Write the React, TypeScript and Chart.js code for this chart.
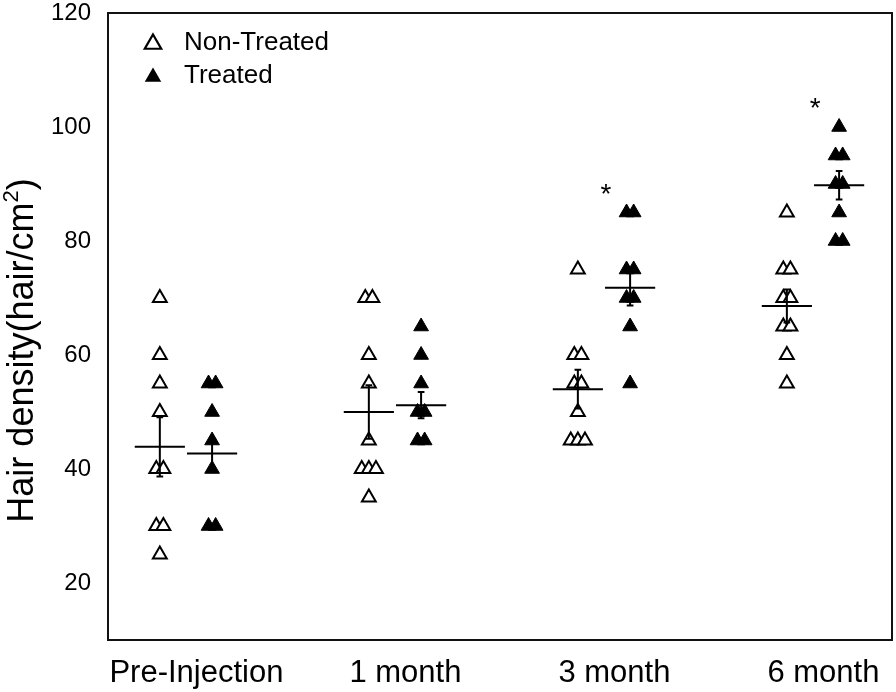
import React, { useEffect, useRef } from "react";
import { Chart, registerables } from "chart.js";

Chart.register(...registerables);

// ---- Data ----
const CATEGORIES = ["Pre-Injection", "1 month", "3 month", "6 month"];

const NON_TREATED: number[][] = [
  [70, 60, 55, 50, 40, 40, 30, 30, 25],
  [70, 70, 60, 55, 45, 40, 40, 40, 35],
  [75, 60, 60, 55, 55, 50, 45, 45, 45],
  [85, 75, 75, 70, 70, 65, 65, 60, 55],
];

const TREATED: number[][] = [
  [55, 55, 50, 45, 40, 30, 30],
  [65, 60, 55, 50, 50, 45, 45],
  [85, 85, 75, 75, 70, 70, 65, 55],
  [100, 95, 95, 90, 90, 85, 80, 80],
];

const NON_TREATED_MEAN = [43.9, 50.0, 54.0, 68.6];
const NON_TREATED_SEM = [5.2, 4.7, 3.4, 2.9];
const TREATED_MEAN = [42.7, 51.2, 71.8, 89.8];
const TREATED_SEM = [2.6, 2.3, 3.1, 2.5];

const SIGNIFICANT = [false, false, true, true];

const Y_TICKS = [20, 40, 60, 80, 100, 120];
const Y_MIN = 10;
const Y_MAX = 120;

const LEGEND_LABELS = ["Non-Treated", "Treated"];
const Y_TITLE_MAIN = "Hair density(hair/cm";
const Y_TITLE_SUP = "2";
const Y_TITLE_END = ")";

// ---- layout / style constants ----
const FONT = "'Liberation Sans', Arial, sans-serif";
const NT_OFFSET = -0.125;
const T_OFFSET = 0.125;
const JITTER = 0.034;
const MEAN_HALF = 0.12;
const CAP_HALF = 0.016;

function toPoints(groups: number[][], offset: number) {
  const pts: { x: number; y: number }[] = [];
  groups.forEach((vals, i) => {
    const counts: Record<number, number> = {};
    vals.forEach((v) => (counts[v] = (counts[v] || 0) + 1));
    const seen: Record<number, number> = {};
    vals.forEach((v) => {
      const k = seen[v] || 0;
      seen[v] = k + 1;
      const n = counts[v];
      pts.push({ x: i + offset + (k - (n - 1) / 2) * JITTER, y: v });
    });
  });
  return pts;
}

function triangle(ctx: CanvasRenderingContext2D, x: number, y: number, r: number) {
  ctx.beginPath();
  ctx.moveTo(x, y - r);
  ctx.lineTo(x + r * Math.sin((2 * Math.PI) / 3), y + r / 2);
  ctx.lineTo(x - r * Math.sin((2 * Math.PI) / 3), y + r / 2);
  ctx.closePath();
}

const overlayPlugin = {
  id: "overlay",
  afterDatasetsDraw(chart: any) {
    const { ctx, chartArea, scales } = chart;
    const xs = scales.x;
    const ys = scales.y;
    ctx.save();

    // mean and SEM bars
    ctx.strokeStyle = "#000";
    ctx.lineWidth = 2;
    const drawStats = (means: number[], sems: number[], offset: number) => {
      means.forEach((m, i) => {
        const c = i + offset;
        const x0 = xs.getPixelForValue(c - MEAN_HALF);
        const x1 = xs.getPixelForValue(c + MEAN_HALF);
        const xc = xs.getPixelForValue(c);
        const ym = ys.getPixelForValue(m);
        const yt = ys.getPixelForValue(m + sems[i]);
        const yb = ys.getPixelForValue(m - sems[i]);
        const cx0 = xs.getPixelForValue(c - CAP_HALF);
        const cx1 = xs.getPixelForValue(c + CAP_HALF);
        ctx.beginPath();
        ctx.moveTo(x0, ym);
        ctx.lineTo(x1, ym);
        ctx.moveTo(xc, yt);
        ctx.lineTo(xc, yb);
        ctx.moveTo(cx0, yt);
        ctx.lineTo(cx1, yt);
        ctx.moveTo(cx0, yb);
        ctx.lineTo(cx1, yb);
        ctx.stroke();
      });
    };
    drawStats(NON_TREATED_MEAN, NON_TREATED_SEM, NT_OFFSET);
    drawStats(TREATED_MEAN, TREATED_SEM, T_OFFSET);

    // asterisks
    ctx.fillStyle = "#000";
    const aSize = 28;
    ctx.font = `${aSize}px ${FONT}`;
    ctx.textAlign = "center";
    ctx.textBaseline = "alphabetic";
    SIGNIFICANT.forEach((s, i) => {
      if (!s) return;
      const top = Math.max(...TREATED[i]) + 4.5;
      const px = xs.getPixelForValue(i + 0.01);
      const py = ys.getPixelForValue(top);
      ctx.fillText("*", px, py + 0.57 * aSize);
    });

    // frame
    ctx.lineWidth = 2;
    ctx.strokeStyle = "#111";
    ctx.strokeRect(
      chartArea.left,
      chartArea.top,
      chartArea.right - chartArea.left,
      chartArea.bottom - chartArea.top
    );

    // legend
    const lx = chartArea.left + 45;
    const ly = [chartArea.top + 29, chartArea.top + 62];
    ctx.font = `26px ${FONT}`;
    ctx.textAlign = "left";
    ctx.textBaseline = "middle";
    LEGEND_LABELS.forEach((label, i) => {
      triangle(ctx, lx, ly[i] + 2, 9.5);
      if (i === 0) {
        ctx.fillStyle = "#fff";
        ctx.fill();
        ctx.lineWidth = 2.2;
        ctx.strokeStyle = "#000";
        ctx.stroke();
      } else {
        ctx.fillStyle = "#000";
        ctx.fill();
      }
      ctx.fillStyle = "#000";
      ctx.fillText(label, chartArea.left + 76, ly[i] + 1);
    });

    // y-axis title (rotated, with superscript)
    const big = 36;
    const small = 22;
    ctx.font = `${big}px ${FONT}`;
    const w1 = ctx.measureText(Y_TITLE_MAIN).width;
    const w3 = ctx.measureText(Y_TITLE_END).width;
    ctx.font = `${small}px ${FONT}`;
    const w2 = ctx.measureText(Y_TITLE_SUP).width;
    const total = w1 + w2 + w3;
    const cy = (chartArea.top + chartArea.bottom) / 2 + 24;
    ctx.translate(33, cy);
    ctx.rotate(-Math.PI / 2);
    ctx.textAlign = "left";
    ctx.textBaseline = "alphabetic";
    ctx.fillStyle = "#000";
    let x = -total / 2;
    ctx.font = `${big}px ${FONT}`;
    ctx.fillText(Y_TITLE_MAIN, x, 0);
    x += w1;
    ctx.font = `${small}px ${FONT}`;
    ctx.fillText(Y_TITLE_SUP, x, -big * 0.42);
    x += w2;
    ctx.font = `${big}px ${FONT}`;
    ctx.fillText(Y_TITLE_END, x, 0);

    ctx.restore();
  },
};

export default function App() {
  const canvasRef = useRef<HTMLCanvasElement | null>(null);

  useEffect(() => {
    if (!canvasRef.current) return;
    const chart = new Chart(canvasRef.current, {
      type: "scatter",
      data: {
        datasets: [
          {
            label: LEGEND_LABELS[0],
            data: toPoints(NON_TREATED, NT_OFFSET),
            pointStyle: "triangle",
            pointRadius: 8,
            pointBackgroundColor: "#fff",
            pointBorderColor: "#000",
            pointBorderWidth: 2,
          },
          {
            label: LEGEND_LABELS[1],
            data: toPoints(TREATED, T_OFFSET),
            pointStyle: "triangle",
            pointRadius: 8.5,
            pointBackgroundColor: "#000",
            pointBorderColor: "#000",
            pointBorderWidth: 1,
          },
        ],
      },
      options: {
        responsive: false,
        animation: false,
        events: [],
        layout: { autoPadding: false, padding: { top: 13, right: 4, left: 0, bottom: 0 } },
        plugins: {
          legend: { display: false },
          tooltip: { enabled: false },
        },
        scales: {
          x: {
            type: "linear",
            min: -0.373,
            max: 3.378,
            afterBuildTicks: (s: any) => {
              s.ticks = CATEGORIES.map((_, i) => ({ value: i + 0.05 }));
            },
            afterFit: (s: any) => {
              s.height = 52;
              s.paddingLeft = 0;
              s.paddingRight = 0;
            },
            ticks: {
              callback: (_v: any, idx: number) => CATEGORIES[idx],
              font: { family: FONT, size: 31 },
              color: "#000",
              padding: 15,
              maxRotation: 0,
              autoSkip: false,
            },
            grid: { display: false, drawTicks: false },
            border: { display: false },
          },
          y: {
            type: "linear",
            min: Y_MIN,
            max: Y_MAX,
            afterBuildTicks: (s: any) => {
              s.ticks = Y_TICKS.map((v) => ({ value: v }));
            },
            afterFit: (s: any) => {
              s.width = 108;
              s.paddingTop = 0;
              s.paddingBottom = 0;
            },
            ticks: {
              font: { family: FONT, size: 24 },
              color: "#000",
              padding: 17,
            },
            grid: { display: false, drawTicks: false },
            border: { display: false },
          },
        },
      },
      plugins: [overlayPlugin],
    });
    return () => chart.destroy();
  }, []);

  return (
    <div style={{ position: "fixed", left: 0, top: 0, width: 896, height: 692, background: "#fff" }}>
      <canvas ref={canvasRef} width={896} height={692} style={{ display: "block" }} />
    </div>
  );
}
